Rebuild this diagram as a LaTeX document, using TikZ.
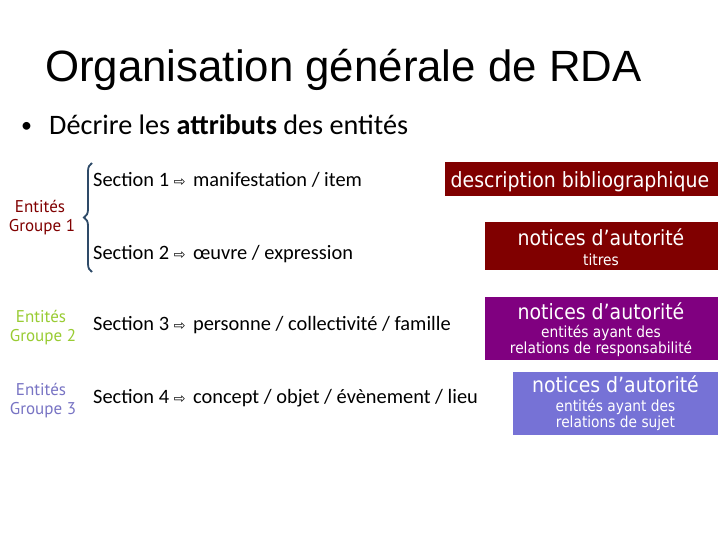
\documentclass[tikz,border=0pt]{standalone}
\usepackage{fontspec}
\setmainfont{Carlito}
\newfontfamily\titlefont{Liberation Sans}
\newfontfamily\boxfont[FakeStretch=0.9]{DejaVu Sans}
\newfontfamily\symfont{DejaVu Sans}
\newfontfamily\grpfont{PT Sans}
\usetikzlibrary{decorations.pathreplacing}
\definecolor{darkred}{RGB}{128,0,0}
\definecolor{violet}{RGB}{128,0,128}
\definecolor{pervinca}{RGB}{118,114,214}
\definecolor{grpgreen}{RGB}{153,204,51}
\definecolor{grpblue}{RGB}{120,116,196}
\definecolor{bracecol}{RGB}{46,74,104}
\newcommand{\arr}{{\symfont\fontsize{14}{14}\selectfont ⇨}\hspace{3pt}}
\tikzset{
  sectxt/.style={anchor=base west, inner sep=0pt, font=\fontsize{20.4}{24}\selectfont},
  grp/.style={anchor=base, inner sep=0pt, font=\grpfont\fontsize{17}{19}\selectfont},
  infobox/.style={draw=none, inner sep=0pt, anchor=north west},
  bigtxt/.style={anchor=base, inner sep=0pt, text=white, font=\boxfont\fontsize{21}{22}\selectfont},
  smalltxt/.style={anchor=base, inner sep=0pt, text=white, font=\boxfont\fontsize{15.3}{16}\selectfont},
}
\begin{document}
\begin{tikzpicture}[x=1pt,y=-1pt]
\useasboundingbox[fill=white] (0,0) rectangle (720,540);
% title
\node[anchor=base west, inner sep=0pt, font=\titlefont\fontsize{43.8}{50}\selectfont] (title) at (45,82) {Organisation générale de RDA};
% bullet
\node[anchor=base west, inner sep=0pt, font=\fontsize{22}{26}\selectfont] (bul) at (21,133) {•};
\node[anchor=base west, inner sep=0pt, font=\fontsize{28.2}{32}\selectfont] (intro) at (49,135) {Décrire les \textbf{attributs} des entités};
% sections
\node[sectxt] (s1) at (93,187) {Section 1 \arr{} manifestation / item};
\node[sectxt] (s2) at (93,259) {Section 2 \arr{} œuvre / expression};
\node[sectxt] (s3) at (93,330) {Section 3 \arr{} personne / collectivité / famille};
\node[sectxt] (s4) at (93,403) {Section 4 \arr{} concept / objet / évènement / lieu};
% groups
\node[grp, text=darkred] (g1a) at (40,213) {Entités};
\node[grp, text=darkred] (g1b) at (42,232) {Groupe 1};
\node[grp, text=grpgreen] (g2a) at (41,322) {Entités};
\node[grp, text=grpgreen] (g2b) at (43,341) {Groupe 2};
\node[grp, text=grpblue] (g3a) at (41,395) {Entités};
\node[grp, text=grpblue] (g3b) at (43,414) {Groupe 3};
% brace
\coordinate (bt) at (92,163);
\coordinate (bb) at (92,272);
\draw[bracecol, line width=1.8pt, decorate, decoration={brace, amplitude=8pt, mirror}] (bt) -- (bb);
% boxes
\node[infobox, fill=darkred, minimum width=273pt, minimum height=34pt] (b1) at (445,162) {};
\node[bigtxt] (b1t) at (580,188) {description bibliographique};
\node[infobox, fill=darkred, minimum width=233pt, minimum height=48pt] (b2) at (485,222) {};
\node[bigtxt] (b2t) at (601,245.5) {notices d’autorité};
\node[smalltxt] (b2s) at (601,265) {titres};
\node[infobox, fill=violet, minimum width=233pt, minimum height=63pt] (b3) at (485,297) {};
\node[bigtxt] (b3t) at (601,319) {notices d’autorité};
\node[smalltxt] (b3s) at (601,337.5) {entités ayant des};
\node[smalltxt] (b3u) at (601,353) {relations de responsabilité};
\node[infobox, fill=pervinca, minimum width=205pt, minimum height=63pt] (b4) at (513,372) {};
\node[bigtxt] (b4t) at (615.5,392) {notices d’autorité};
\node[smalltxt] (b4s) at (615.5,411) {entités ayant des};
\node[smalltxt] (b4u) at (615.5,427) {relations de sujet};
\end{tikzpicture}
\end{document}
